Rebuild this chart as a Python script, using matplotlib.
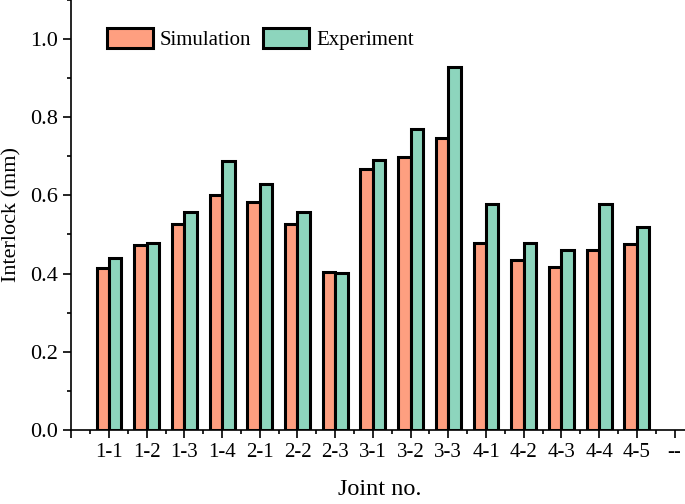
import matplotlib
matplotlib.use('Agg')
import matplotlib.pyplot as plt
from matplotlib.ticker import MultipleLocator, FormatStrFormatter
import numpy as np

plt.rcParams['font.family'] = ['Liberation Serif', 'DejaVu Serif']

joints = ['1-1', '1-2', '1-3', '1-4', '2-1', '2-2', '2-3', '3-1',
          '3-2', '3-3', '4-1', '4-2', '4-3', '4-4', '4-5']
simulation = [0.414, 0.474, 0.527, 0.601, 0.582, 0.527, 0.405, 0.667,
              0.699, 0.748, 0.479, 0.436, 0.417, 0.460, 0.476]
experiment = [0.439, 0.478, 0.558, 0.687, 0.629, 0.558, 0.401, 0.690,
              0.769, 0.928, 0.579, 0.479, 0.460, 0.579, 0.520]
tick_labels = [''] + joints + ['--']

fig = plt.figure(figsize=(6.85, 5.04), dpi=100)
ax = fig.add_axes([0.104, 0.147, 0.900, 0.853])

x = np.arange(1, len(joints) + 1)
w = 0.33
ax.bar(x - w / 2, simulation, w, color='#FE9F80', edgecolor='black',
       linewidth=2.2, label='Simulation')
ax.bar(x + w / 2, experiment, w, color='#8DD5BD', edgecolor='black',
       linewidth=2.2, label='Experiment')

ax.set_xlim(0, 16.35)
ax.set_ylim(0, 1.1)
ax.set_xticks(np.arange(len(tick_labels)))
ax.set_xticklabels(tick_labels)
ax.xaxis.set_minor_locator(MultipleLocator(0.5))
ax.yaxis.set_major_locator(MultipleLocator(0.2))
ax.yaxis.set_minor_locator(MultipleLocator(0.1))
ax.yaxis.set_major_formatter(FormatStrFormatter('%.1f'))

ax.tick_params(axis='both', which='major', direction='out', length=6,
               width=1.2)
ax.tick_params(axis='x', which='major', labelsize=15)
ax.tick_params(axis='y', which='major', labelsize=16)
ax.tick_params(axis='both', which='minor', direction='out', length=3,
               width=1.2)
ax.spines['top'].set_visible(False)
ax.spines['right'].set_visible(False)
ax.spines['left'].set_linewidth(1.2)
ax.spines['bottom'].set_linewidth(1.2)

ax.set_ylabel('Interlock (mm)', fontsize=16, labelpad=6)
ax.set_xlabel('Joint no.', fontsize=17.5, labelpad=12)

ax.legend(loc='center left', bbox_to_anchor=(0.058, 0.909), ncol=2,
          frameon=False, fontsize=15, handlelength=2.2, handleheight=1.1,
          handletextpad=0.35, columnspacing=0.55, borderpad=0,
          borderaxespad=0)

fig.savefig('out.png', dpi=100)
